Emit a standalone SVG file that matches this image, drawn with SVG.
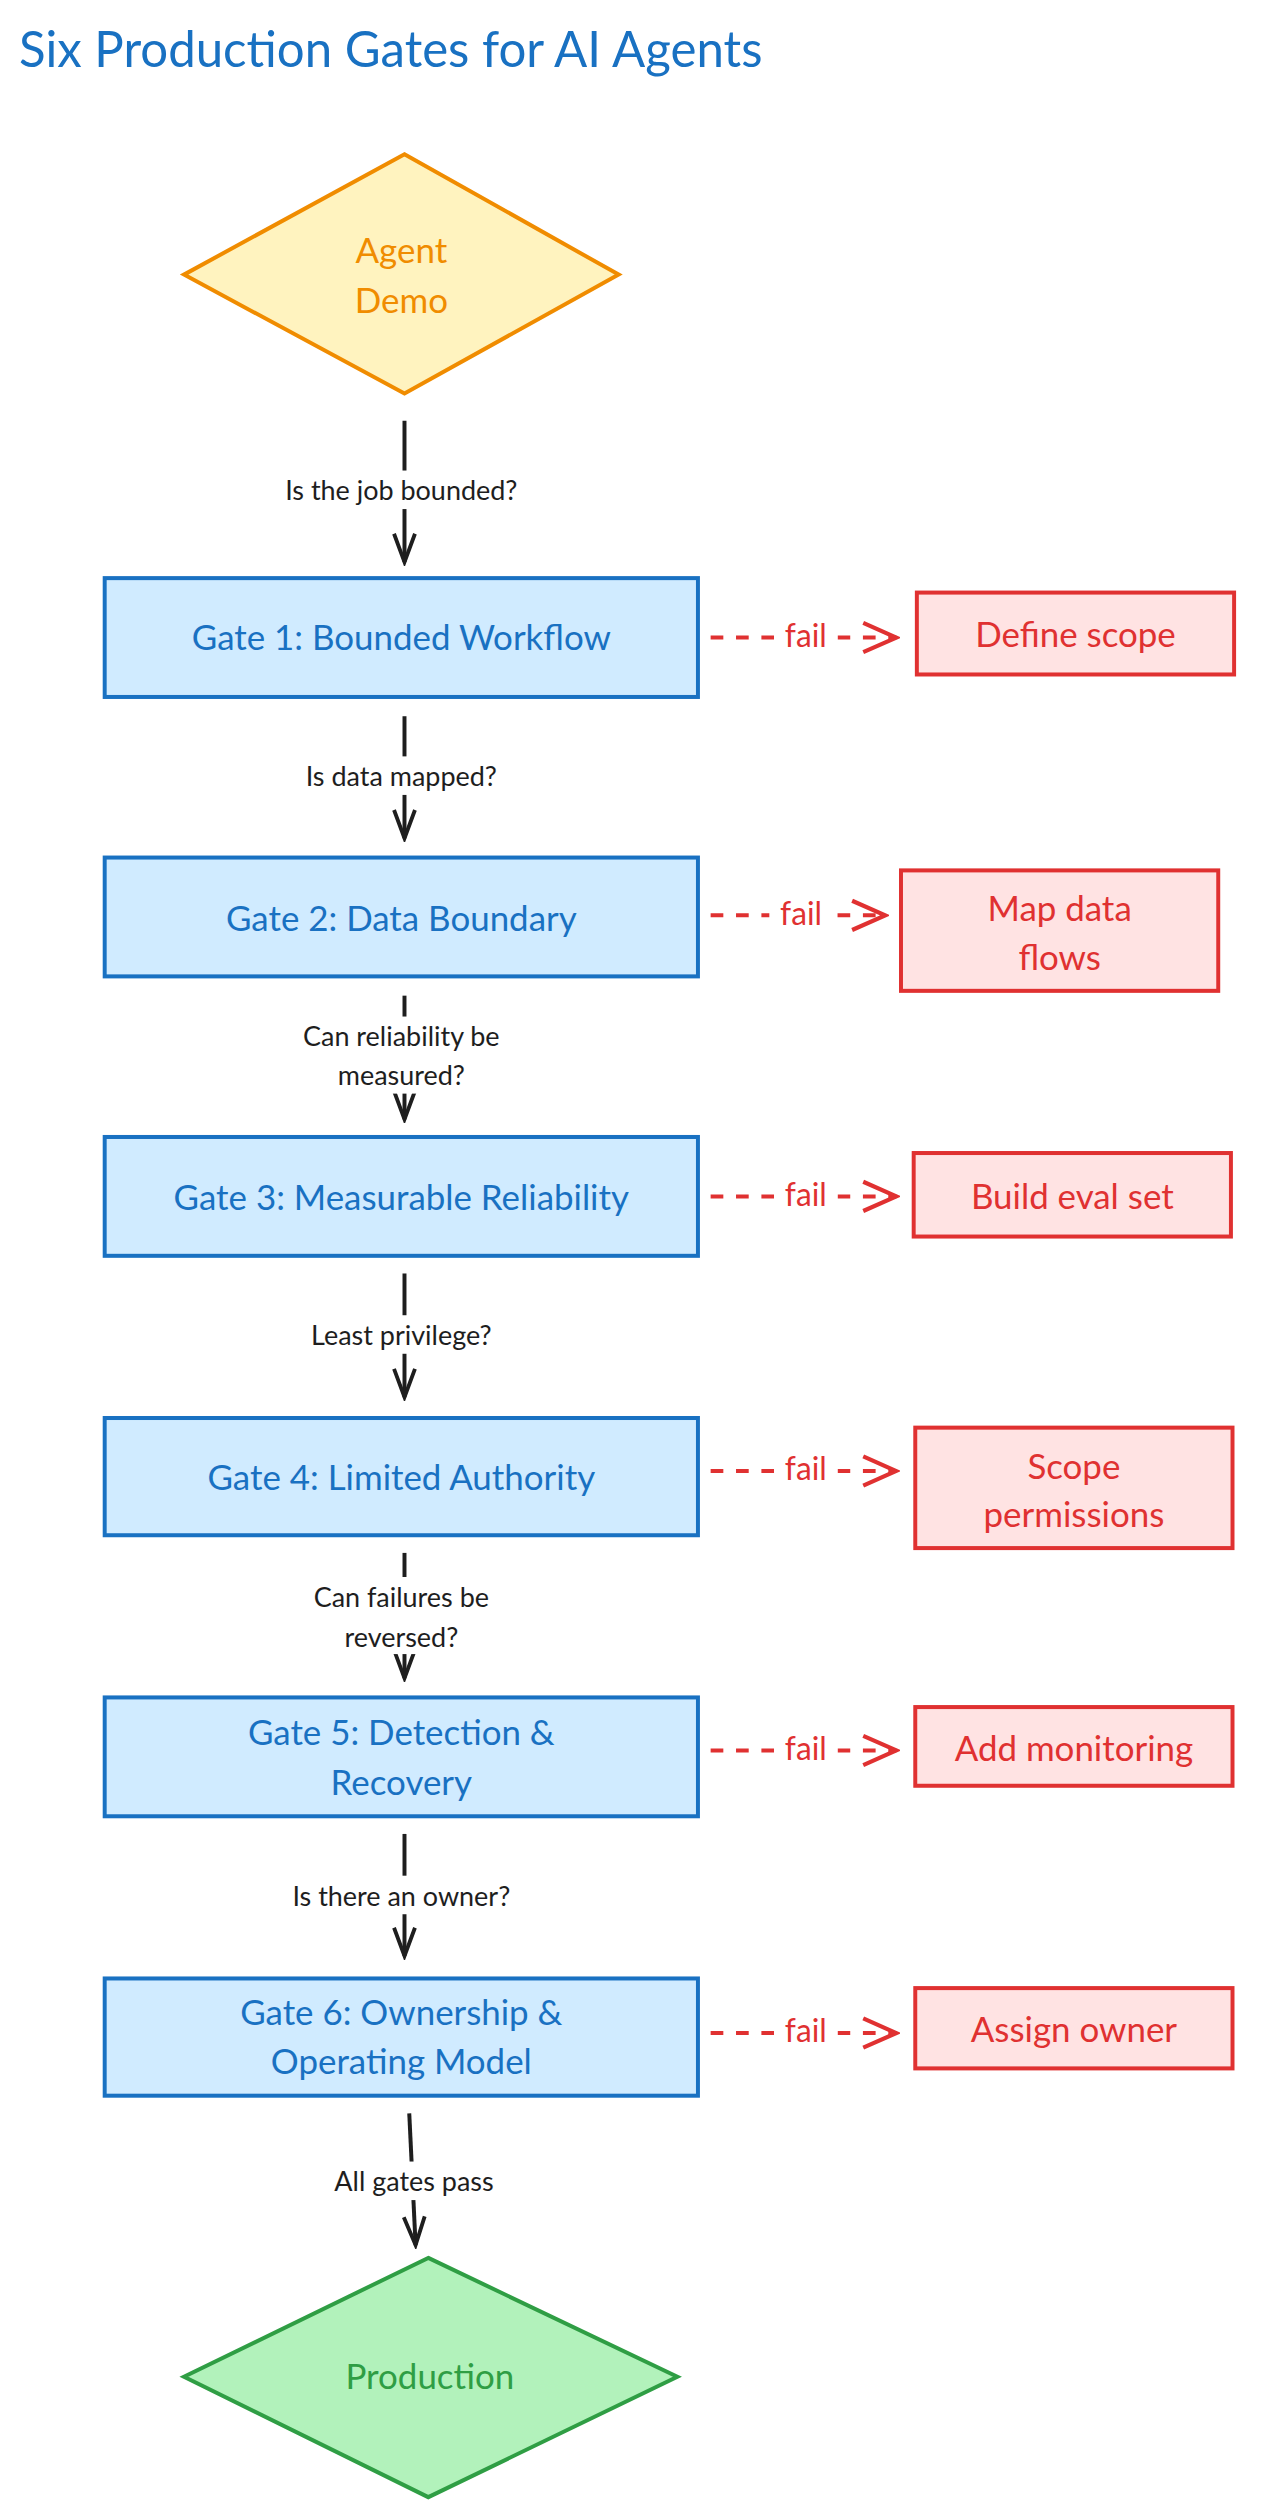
<svg xmlns="http://www.w3.org/2000/svg" width="1269" height="2518" viewBox="0 0 1269 2518">
<defs>
<style>
text{font-family:Lato,"Noto Sans",sans-serif;text-anchor:middle;dominant-baseline:central}
.g rect{fill:#d0ebff;stroke:#1971c2;stroke-width:2.5}
.g text{fill:#1971c2;font-size:22px}
.f rect{fill:#ffe3e3;stroke:#e03131;stroke-width:2.5}
.f text{fill:#e03131;font-size:22px}
.e{stroke:#1e1e1e;stroke-width:2.5;fill:none;marker-end:url(#ah)}
.d{stroke:#e03131;stroke-width:2.5;fill:none;stroke-dasharray:8 8;marker-end:url(#ahr)}
.l{fill:#1e1e1e;font-size:17px}
.lf{fill:#e03131;font-size:20px}
</style>
<marker id="ah" viewBox="0 0 20 20" refX="18" refY="10" markerWidth="22" markerHeight="22" orient="auto" markerUnits="userSpaceOnUse"><path d="M2 4 L18 10 L2 16" fill="none" stroke="#1e1e1e" stroke-width="2.2"/></marker>
<marker id="ahr" viewBox="0 0 20 20" refX="18" refY="10" markerWidth="26" markerHeight="26" orient="auto" markerUnits="userSpaceOnUse"><path d="M2 3 L18 10 L2 17" fill="none" stroke="#e03131" stroke-width="2"/></marker>
</defs>
<rect width="1269" height="2518" fill="#ffffff"/>
<g transform="scale(1.58625,1.6059)">
<text x="12" y="30" style="text-anchor:start;font-size:31px;fill:#1971c2" id="title">Six Production Gates for AI Agents</text>
<g id="connectors">
<line class="e" x1="255" y1="262" x2="255" y2="350"/>
<line class="e" x1="255" y1="446" x2="255" y2="522"/>
<line class="e" x1="255" y1="620" x2="255" y2="697"/>
<line class="e" x1="255" y1="793" x2="255" y2="870"/>
<line class="e" x1="255" y1="967" x2="255" y2="1045"/>
<line class="e" x1="255" y1="1142" x2="255" y2="1218"/>
<line class="e" x1="258" y1="1316" x2="262" y2="1398"/>
<rect x="150" y="293" width="210" height="24" fill="#fff"/><text class="l" x="253" y="305">Is the job bounded?</text>
<rect x="168" y="471" width="170" height="24" fill="#fff"/><text class="l" x="253" y="483">Is data mapped?</text>
<rect x="170" y="633" width="166" height="48" fill="#fff"/><text class="l" x="253" y="645">Can reliability be</text><text class="l" x="253" y="669">measured?</text>
<rect x="175" y="819" width="156" height="24" fill="#fff"/><text class="l" x="253" y="831">Least privilege?</text>
<rect x="178" y="982" width="150" height="48" fill="#fff"/><text class="l" x="253" y="994">Can failures be</text><text class="l" x="253" y="1019">reversed?</text>
<rect x="158" y="1168" width="194" height="24" fill="#fff"/><text class="l" x="253" y="1180">Is there an owner?</text>
<rect x="188" y="1346" width="146" height="24" fill="#fff"/><text class="l" x="261" y="1358">All gates pass</text>
<line class="d" x1="448" y1="397" x2="565" y2="397"/>
<line class="d" x1="448" y1="570" x2="558" y2="570"/>
<line class="d" x1="448" y1="745" x2="565" y2="745"/>
<line class="d" x1="448" y1="916" x2="565" y2="916"/>
<line class="d" x1="448" y1="1090" x2="565" y2="1090"/>
<line class="d" x1="448" y1="1266" x2="565" y2="1266"/>
<g fill="#fff"><rect x="488" y="383" width="40" height="26"/><rect x="485" y="556" width="40" height="26"/><rect x="488" y="731" width="40" height="26"/><rect x="488" y="902" width="40" height="26"/><rect x="488" y="1076" width="40" height="26"/><rect x="488" y="1252" width="40" height="26"/></g>
<text class="lf" x="508" y="395">fail</text><text class="lf" x="505" y="568">fail</text><text class="lf" x="508" y="743">fail</text><text class="lf" x="508" y="914">fail</text><text class="lf" x="508" y="1088">fail</text><text class="lf" x="508" y="1264">fail</text>
</g>
<g id="demo"><polygon points="255,96 390,171 255,245 116,171" fill="#fff3bf" stroke="#f08c00" stroke-width="2.5"/><text x="253" y="155" fill="#f08c00" font-size="22">Agent</text><text x="253" y="186" fill="#f08c00" font-size="22">Demo</text></g>
<g id="gate1" class="g"><rect x="66" y="360" width="374" height="74"/><text x="253" y="396">Gate 1: Bounded Workflow</text></g>
<g id="gate2" class="g"><rect x="66" y="534" width="374" height="74"/><text x="253" y="571">Gate 2: Data Boundary</text></g>
<g id="gate3" class="g"><rect x="66" y="708" width="374" height="74"/><text x="253" y="745">Gate 3: Measurable Reliability</text></g>
<g id="gate4" class="g"><rect x="66" y="883" width="374" height="73"/><text x="253" y="919">Gate 4: Limited Authority</text></g>
<g id="gate5" class="g"><rect x="66" y="1057" width="374" height="74"/><text x="253" y="1078">Gate 5: Detection &amp;</text><text x="253" y="1109">Recovery</text></g>
<g id="gate6" class="g"><rect x="66" y="1232" width="374" height="73"/><text x="253" y="1252">Gate 6: Ownership &amp;</text><text x="253" y="1283">Operating Model</text></g>
<g id="fail1" class="f"><rect x="578" y="369" width="200" height="51"/><text x="678" y="394">Define scope</text></g>
<g id="fail2" class="f"><rect x="568" y="542" width="200" height="75"/><text x="668" y="565">Map data</text><text x="668" y="595">flows</text></g>
<g id="fail3" class="f"><rect x="576" y="718" width="200" height="52"/><text x="676" y="744">Build eval set</text></g>
<g id="fail4" class="f"><rect x="577" y="889" width="200" height="75"/><text x="677" y="912">Scope</text><text x="677" y="942">permissions</text></g>
<g id="fail5" class="f"><rect x="577" y="1063" width="200" height="49"/><text x="677" y="1088">Add monitoring</text></g>
<g id="fail6" class="f"><rect x="577" y="1238" width="200" height="50"/><text x="677" y="1263">Assign owner</text></g>
<g id="production"><polygon points="270,1406 427,1480 270,1555 116,1480" fill="#b2f2bb" stroke="#2f9e44" stroke-width="2.5"/><text x="271" y="1479" fill="#2f9e44" font-size="22">Production</text></g>
</g>
</svg>
